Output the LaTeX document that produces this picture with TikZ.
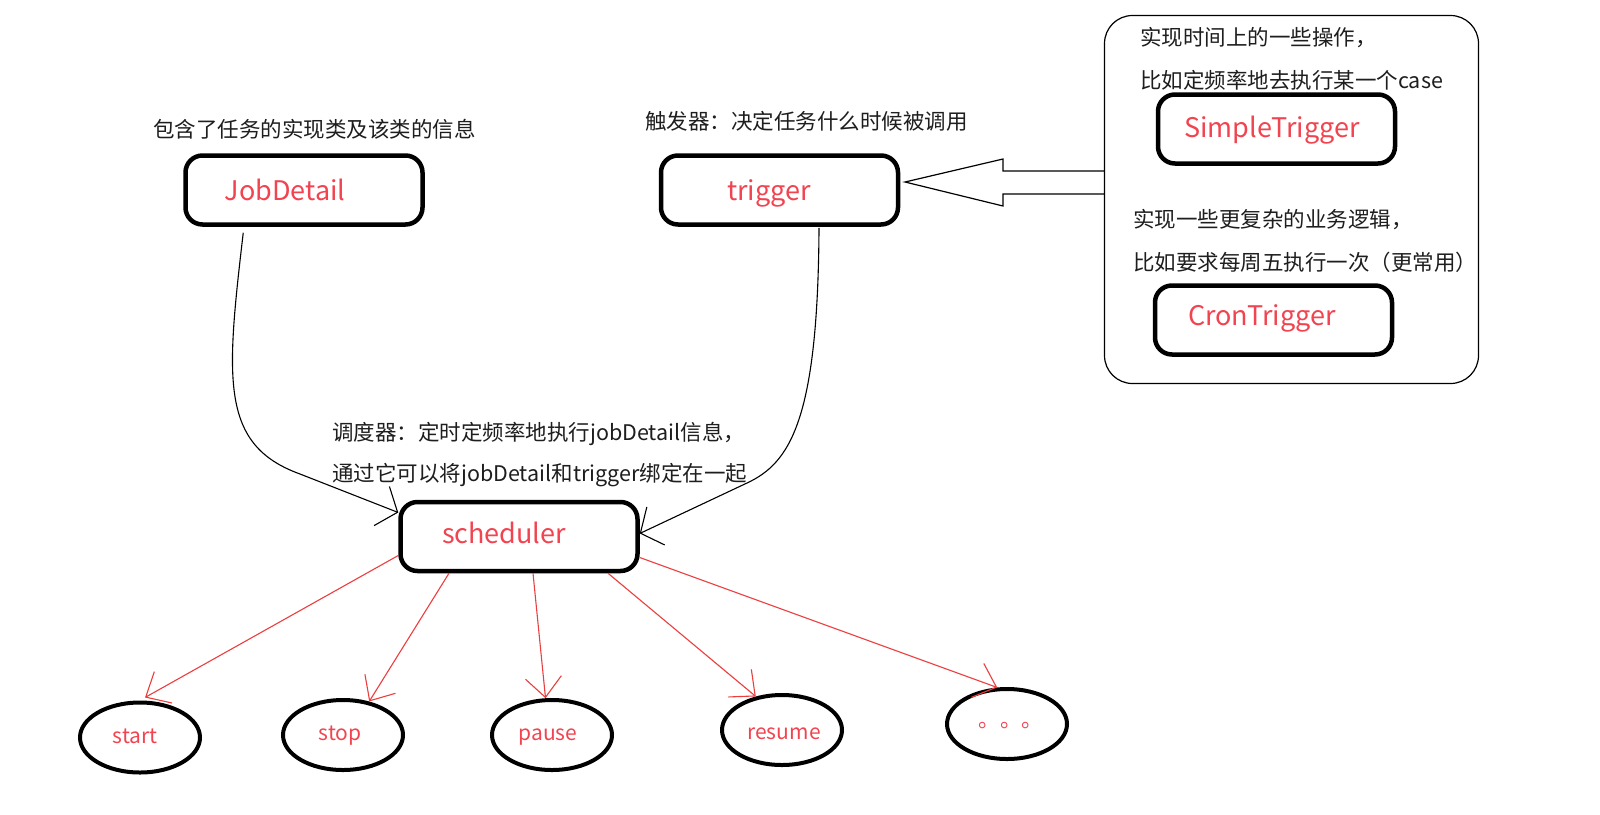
\documentclass[tikz,border=0pt]{standalone}
\usepackage{fontspec}
\setmainfont{Noto Sans CJK SC}
\usetikzlibrary{arrows.meta,calc,shapes.geometric}
\definecolor{redtxt}{RGB}{242,68,80}
\definecolor{redln}{RGB}{236,62,62}
\definecolor{ink}{RGB}{30,30,30}
\begin{document}
\begin{tikzpicture}[x=1pt,y=-1pt,
  box/.style={draw=black, line width=4.5pt, rounded corners=17pt, minimum width=237pt, minimum height=69pt, inner sep=0pt},
  oval/.style={draw=black, ellipse, line width=4pt, minimum width=120pt, minimum height=70pt, inner sep=0pt},
  redlbl/.style={text=redtxt, font=\fontsize{27}{30}\selectfont, inner sep=0pt, anchor=base},
  ovallbl/.style={text=redtxt, font=\fontsize{21}{24}\selectfont, inner sep=0pt, anchor=base},
  cn/.style={text=ink, font=\fontsize{21.5}{26}\selectfont, inner sep=0pt, anchor=west},
  curve/.style={draw=black, line width=1.1pt, -{Straight Barb[length=17pt,width=42pt]}},
  redarrow/.style={draw=redln, line width=1.1pt, -{Straight Barb[length=20pt,width=36pt]}},
]
\useasboundingbox[fill=white] (0,0) rectangle (1600,814);

% main boxes
\node[box] (jd) at (304,190) {};
\node[redlbl] (jdt) at (285,200) {JobDetail};
\node[cn] (jdl) at (153,129) {包含了任务的实现类及该类的信息};

\node[box] (trig) at (779.5,190) {};
\node[redlbl] (trigt) at (769,200) {trigger};
\node[cn] (trigl) at (645,121) {触发器：决定任务什么时候被调用};

% group box
\node[draw=black, line width=1.2pt, rounded corners=28pt, minimum width=374pt, minimum height=368pt, inner sep=0pt] (grp) at (1291.5,199.5) {};
\node[cn] (g1) at (1140,38) {实现时间上的一些操作，};
\node[cn] (g2) at (1140,80) {比如定频率地去执行某一个case};
\node[box] (simple) at (1276.5,129) {};
\node[redlbl] (simplet) at (1272,137) {SimpleTrigger};
\node[cn] (g3) at (1133,220) {实现一些更复杂的业务逻辑，};
\node[cn] (g4) at (1133,262) {比如要求每周五执行一次（更常用）};
\node[box] (cron) at (1273.5,320) {};
\node[redlbl] (cront) at (1262,325) {CronTrigger};

% hollow arrow
\draw[line width=1.2pt, line join=miter] (grp.west |- 0,171) -- (1003,171) -- (1003,159) -- (905,182) -- (1003,206) -- (1003,194) -- (grp.west |- 0,194);

% scheduler
\node[box] (sched) at (519,536.5) {};
\node[redlbl] (schedt) at (504,543) {scheduler};
\node[cn] (s1) at (332,434) {调度器：定时定频率地执行jobDetail信息，};
\node[cn] (s2) at (332,475) {通过它可以将jobDetail和trigger绑定在一起};

% curves into scheduler
\draw[curve] ($(jd.south west)+(60,6)$) .. controls (226,380) and (220,445) .. (300,474) -- ($(sched.west)+(0,-24)$);
\draw[curve] ($(trig.south)+(39.5,1)$) .. controls (818,420) and (790,463) .. (747,483) -- ($(sched.east)+(0,-3)$);

% ovals
\node[oval] (st) at (140,737.5) {};
\node[ovallbl] (stt) at (135,743) {start};
\node[oval] (sp) at (343,735) {};
\node[ovallbl] (spt) at (340,740) {stop};
\node[oval] (pa) at (552,735) {};
\node[ovallbl] (pat) at (548,740) {pause};
\node[oval] (rs) at (782,730) {};
\node[ovallbl] (rst) at (784,739) {resume};
\node[oval] (dt) at (1007,724) {};
\node[text=redtxt, font=\fontsize{21.5}{24}\selectfont, inner sep=0pt, anchor=base west] (dtt) at (978.5,727) {。。。};

% red arrows
\draw[redarrow] ($(sched.west)+(0,19)$) -- ($(st.north)+(5,-3)$);
\draw[redarrow] ($(sched.south)+(-70,0)$) -- (sp.52);
\draw[redarrow] ($(sched.south)+(14,0)$) -- (pa.100);
\draw[redarrow] ($(sched.south)+(89,0)$) -- (rs.128);
\draw[redarrow] ($(sched.east)+(0,21)$) -- (dt.105);
\end{tikzpicture}
\end{document}
